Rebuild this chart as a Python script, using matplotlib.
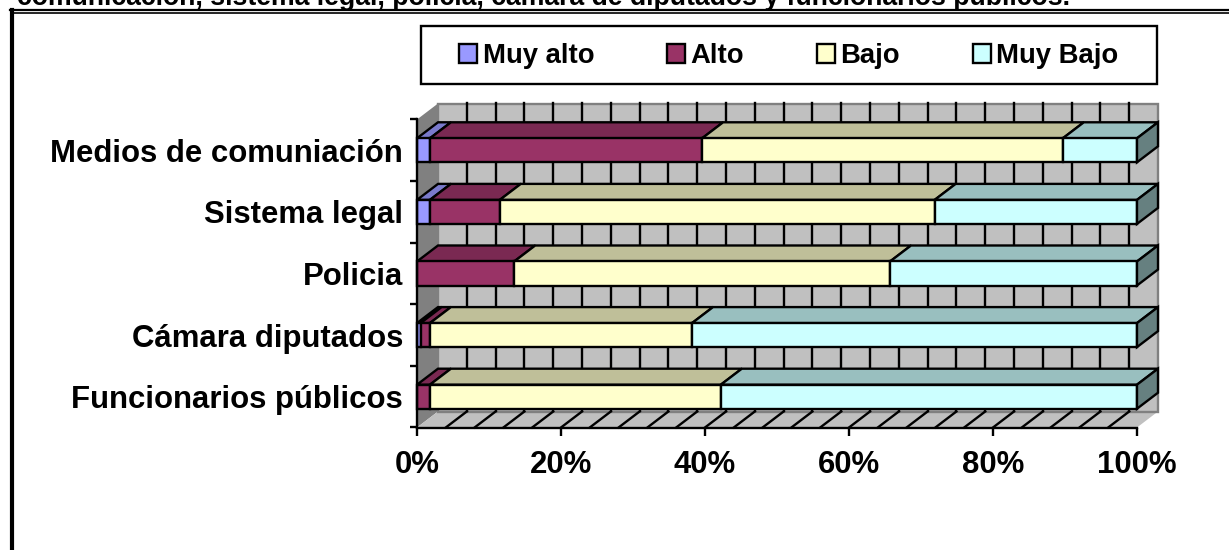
import matplotlib
matplotlib.use("Agg")
import matplotlib.pyplot as plt
from matplotlib.patches import Polygon, Rectangle
from matplotlib.lines import Line2D
import numpy as np

plt.rcParams['font.family'] = ['Liberation Sans', 'DejaVu Sans']
plt.rcParams['font.weight'] = 'bold'

# de abajo hacia arriba
categorias = ["Funcionarios públicos", "Cámara diputados", "Policia", "Sistema legal", "Medios de comuniación"]
muy_alto = [0.0, 0.5, 0.0, 1.8, 1.8]
alto = [1.8, 1.3, 13.5, 9.7, 37.8]
bajo = [40.4, 36.4, 52.2, 60.4, 50.1]
muy_bajo = [57.8, 61.8, 34.3, 28.1, 10.3]
series = ["Muy alto", "Alto", "Bajo", "Muy Bajo"]
colores = ["#9999FF", "#993366", "#FFFFCC", "#CCFFFF"]
colores_top = ["#7A7ACC", "#7A2952", "#BFBF99", "#99BFBF"]
lado = "#668080"
titulo = "comunicación, sistema legal, policía, cámara de diputados y funcionarios públicos."

W, H = 1229, 550
LW = 1.7

fig = plt.figure(figsize=(W / 100, H / 100), dpi=100)
ax = fig.add_axes([417 / W, 1 - 427.5 / H, 720 / W, 308 / H])
ax.set_xlim(0, 100)
ax.set_ylim(-0.5, 4.5)

# profundidad del efecto 3D, en unidades de datos
dx = 21 / 7.2
dy = 16 / 61.6
alto_barra = 0.39

# paredes y piso
ax.add_patch(Polygon([(0, -0.5), (dx, -0.5 + dy), (dx, 4.5 + dy), (0, 4.5)], fc="#808080", ec="none", clip_on=False, zorder=1))
ax.add_patch(Polygon([(0, -0.5), (100, -0.5), (100 + dx, -0.5 + dy), (dx, -0.5 + dy)], fc="#C0C0C0", ec="none", clip_on=False, zorder=1))
ax.add_patch(Rectangle((dx, -0.5 + dy), 100, 5, fc="#C0C0C0", ec="#808080", lw=LW, clip_on=False, zorder=1))
for g in np.arange(4, 100, 4):
    ax.add_line(Line2D([g + dx, g + dx], [-0.5 + dy, 4.5 + dy], color="k", lw=LW, clip_on=False, zorder=2))
    ax.add_line(Line2D([g, g + dx], [-0.5, -0.5 + dy], color="k", lw=LW, clip_on=False, zorder=2))

# barras, de atras hacia adelante
valores = np.array([muy_alto, alto, bajo, muy_bajo])
z = 10
for i in range(4, -1, -1):
    top = i + alto_barra / 2
    bot = i - alto_barra / 2
    izq = 0
    for s in range(4):
        v = valores[s][i]
        if v > 0:
            ax.add_patch(Polygon([(izq, top), (izq + v, top), (izq + v + dx, top + dy), (izq + dx, top + dy)],
                                 fc=colores_top[s], ec="k", lw=LW, clip_on=False, zorder=z))
            ax.barh(i, v, left=izq, height=alto_barra, color=colores[s], edgecolor="k", linewidth=LW, clip_on=False, zorder=z + 1)
        izq += v
    ax.add_patch(Polygon([(izq, top), (izq + dx, top + dy), (izq + dx, bot + dy), (izq, bot)],
                         fc=lado, ec="k", lw=LW, clip_on=False, zorder=z + 1))
    z += 2

# ejes
for sp in ["top", "right"]:
    ax.spines[sp].set_visible(False)
for sp in ["left", "bottom"]:
    ax.spines[sp].set_linewidth(LW)
    ax.spines[sp].set_zorder(50)
ax.patch.set_visible(False)
ax.set_xticks(np.arange(0, 101, 20))
ax.set_xticklabels([f"{p}%" for p in range(0, 101, 20)], fontsize=22.4, fontweight="bold")
ax.set_yticks(np.arange(-0.5, 5, 1))
ax.set_yticklabels([])
ax.set_yticks(range(5), categorias, minor=True, fontsize=22.4, fontweight="bold")
ax.tick_params(axis="x", length=5.5, width=LW, pad=11)
ax.tick_params(axis="y", which="major", length=5, width=LW)
ax.tick_params(axis="y", which="minor", length=0, pad=10)

# leyenda
fig.add_artist(Rectangle((421 / W, 1 - 84 / H), 736 / W, 58 / H, transform=fig.transFigure, fc="w", ec="k", lw=LW))
handles = [Rectangle((0, 0), 1, 1, fc=c, ec="k", lw=LW) for c in colores]
fig.legend(handles, series, ncol=4, loc="center", bbox_to_anchor=(789 / W, 1 - 56 / H), frameon=False,
           fontsize=19.8, handlelength=0.65, handleheight=0.65, handletextpad=0.2, columnspacing=2.65)

# marco de la pagina y titulo cortado
fig.text(17 / W, 1 - 5 / H, titulo, fontsize=19.15, fontweight="bold", va="baseline", ha="left")
fig.add_artist(Line2D([10 / W, 1], [1 - 10 / H, 1 - 10 / H], color="k", lw=1.6))
fig.add_artist(Line2D([11 / W, 1], [1 - 13 / H, 1 - 13 / H], color="k", lw=1.2))
fig.add_artist(Line2D([12 / W, 12 / W], [0, 1 - 10 / H], color="k", lw=3))

fig.savefig("out.png", dpi=100)
